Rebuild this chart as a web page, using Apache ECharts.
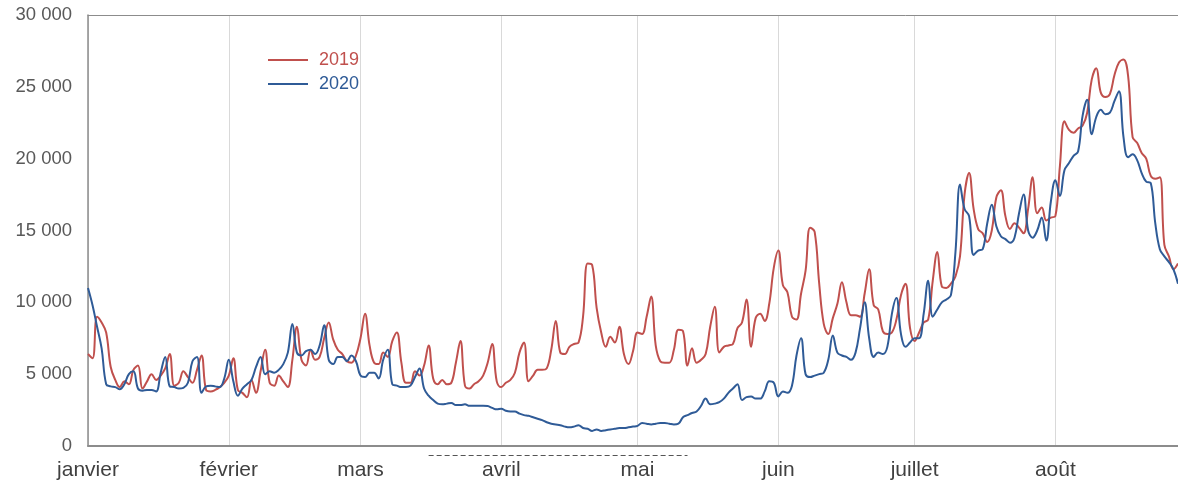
<!DOCTYPE html>
<html>
<head>
<meta charset="utf-8">
<script src="https://cdn.jsdelivr.net/npm/echarts@6/dist/echarts.min.js"></script>
<style>
html,body{margin:0;padding:0;background:#fff;}
#chart{width:1178px;height:485px;}
</style>
</head>
<body>
<div id="chart"></div>
<script>
const monthNames = ['janvier','février','mars','avril','mai','juin','juillet','août','septembre','octobre','novembre','décembre'];
const seriesNames = ['2019','2020'];
const yTicks = [0, 5000, 10000, 15000, 20000, 25000, 30000];
const lockdownRange = ['2020-03-16', '2020-05-12'];

const values2019 = [
6400,6100,9000,8600,7900,5500,4600,4100,4500,4300,
5300,5600,4000,4500,5000,4600,4900,5400,6400,4200,
4400,5200,4800,4400,5300,6300,3900,3800,3900,4100,
4400,4900,6100,3900,3700,3400,4600,3700,5200,6700,
4400,4200,4900,4500,4100,6000,8300,6000,5600,6700,
6000,6200,7500,8600,7400,6700,6400,5900,5800,6300,
7500,9200,7000,5800,5700,6500,6200,7300,7900,5800,
4400,4400,5200,4900,5600,7000,4700,4300,4600,4300,
4400,5800,7300,4200,4000,4300,4500,4900,5800,7100,
4500,4100,4400,4600,5100,6500,7200,4500,4900,5300,
5300,5400,6700,8700,6500,6400,6900,7100,7200,9000,
12700,12600,9600,7900,6900,7600,7200,8300,6400,5700,
6600,7900,7800,9000,10400,7000,5900,5800,5800,6700,
8100,8000,5600,6800,5800,6000,6400,8300,9700,6500,
6900,7000,7100,8200,8600,10200,6900,8900,9200,8700,
9900,12400,13600,11200,10700,9000,8800,10600,12200,15200,
14900,11300,8500,7800,8900,9900,11400,10000,9100,9100,
9000,10600,12300,9800,9500,8000,7800,7900,8800,10500,
11300,8200,7300,7900,8600,8800,11500,13500,11100,11000,
11300,11800,13200,17500,19000,16500,15100,14800,14200,15000,
17300,17800,16000,15100,15500,15200,14800,16500,18700,16200,
16600,15700,15900,16000,19500,22600,22000,21800,22100,22300,
23200,25500,26300,24600,24300,24500,25800,26700,26900,25800,
21500,21100,20400,20000,18800,18600,18700,14000,13200,12300,
12700
];

const values2020 = [
11000,9800,8300,6800,4300,4150,4100,3950,4300,5000,
5200,4000,3850,3900,3900,3800,5100,6200,4150,4100,
4000,4050,4400,5900,6200,3700,4150,4200,4150,4100,
4700,6000,4500,3500,4000,4300,4600,5500,6200,5000,
5200,5100,5300,5700,6500,8500,6500,6300,6600,6700,
6400,7000,8400,6000,5700,6200,6200,5900,6300,5900,
4900,4800,5100,5100,4700,6000,6700,4300,4200,4100,
4100,4200,4800,5400,4000,3500,3200,2950,2900,2950,
3000,2850,2850,2900,2800,2800,2800,2800,2780,2650,
2550,2600,2450,2400,2400,2250,2150,2100,2000,1900,
1800,1650,1550,1500,1450,1350,1300,1350,1450,1250,
1200,1050,1150,1050,1100,1150,1200,1250,1250,1300,
1350,1400,1600,1550,1500,1550,1600,1600,1550,1500,
1550,2000,2150,2300,2400,2800,3300,2900,2950,3050,
3300,3700,4000,4300,3200,3400,3450,3300,3300,3800,
4500,4400,3450,3800,3700,4200,6300,7500,5000,4800,
4900,5000,5100,6000,7700,6500,6300,6200,6000,6500,
8200,10000,7500,6200,6500,6400,6900,9200,10300,7800,
6900,7200,7500,7500,9200,11500,9000,9500,10000,10200,
10500,13500,18200,16500,16000,13300,13600,13700,15500,16800,
15300,14600,14400,14150,14500,16200,17500,15000,14500,15000,
15900,14300,17000,18500,17400,19200,19700,20200,20500,23000,
24100,21700,22900,23400,23100,23200,24000,24700,21500,20100,
20300,19900,19000,18400,18300,15500,13700,13200,12800,12300,
11300
];

// daily date categories starting 1 January
const categories = [];
(function(){
  const d = new Date(Date.UTC(2020, 0, 1));
  for (let i = 0; i < values2020.length; i++) {
    categories.push(d.toISOString().slice(0, 10));
    d.setUTCDate(d.getUTCDate() + 1);
  }
})();

const isMonthStart = (idx, val) => categories[idx].slice(8) === '01';
const fmtThousands = v => String(v).replace(/\B(?=(\d{3})+(?!\d))/g, ' ');

const RED = '#c0504d';
const BLUE = '#2f5b97';
const FONT = 'Liberation Sans, Arial, sans-serif';

const chart = echarts.init(document.getElementById('chart'), null, {renderer: 'canvas'});
chart.setOption({
  animation: false,
  backgroundColor: '#fff',
  textStyle: {fontFamily: FONT},
  grid: {left: 88, right: 0, top: 15, bottom: 39, containLabel: false},
  legend: {
    orient: 'vertical',
    left: 263,
    top: 46,
    itemWidth: 40,
    itemHeight: 2,
    itemGap: 6,
    icon: 'rect',
    data: [
      {name: seriesNames[0], textStyle: {color: RED}},
      {name: seriesNames[1], textStyle: {color: BLUE}}
    ],
    textStyle: {fontSize: 18, padding: [0, 0, 0, 6], fontFamily: FONT}
  },
  xAxis: [{
    type: 'category',
    data: categories,
    boundaryGap: false,
    axisLine: {show: true, lineStyle: {color: '#8c8c8c', width: 2}},
    axisTick: {show: false},
    axisLabel: {
      interval: isMonthStart,
      formatter: v => monthNames[parseInt(v.slice(5, 7), 10) - 1],
      color: '#404040',
      fontSize: 21,
      margin: 14
    },
    splitLine: {show: true, interval: isMonthStart, lineStyle: {color: '#d9d9d9', width: 1}}
  }, {
    type: 'category',
    data: categories,
    position: 'top',
    boundaryGap: false,
    axisLine: {show: true, lineStyle: {color: '#8c8c8c', width: 1}},
    axisTick: {show: false},
    axisLabel: {show: false},
    splitLine: {show: false}
  }],
  yAxis: {
    type: 'value',
    min: yTicks[0],
    max: yTicks[yTicks.length - 1],
    interval: yTicks[1] - yTicks[0],
    axisLine: {show: true, lineStyle: {color: '#8c8c8c', width: 1.5}},
    axisTick: {show: false},
    splitLine: {show: false},
    axisLabel: {
      formatter: fmtThousands,
      color: '#595959',
      fontSize: 18.5,
      margin: 16,
      lineHeight: 24,
      verticalAlign: 'middle',
      padding: [6, 0, 0, 0]
    }
  },
  series: [{
    name: seriesNames[0],
    type: 'line',
    data: values2019,
    smooth: 0.4,
    symbol: 'none',
    lineStyle: {color: RED, width: 2},
    itemStyle: {color: RED},
    z: 2
  }, {
    name: seriesNames[1],
    type: 'line',
    data: values2020,
    smooth: 0.4,
    symbol: 'none',
    lineStyle: {color: BLUE, width: 2},
    itemStyle: {color: BLUE},
    z: 3
  }]
});

// dashed lockdown marker under the axis, positioned through the axis scale
const x1 = chart.convertToPixel({xAxisIndex: 0}, lockdownRange[0]);
const x2 = chart.convertToPixel({xAxisIndex: 0}, lockdownRange[1]);
const y0 = Math.round(chart.convertToPixel({yAxisIndex: 0}, 0)) + 9.5;
chart.setOption({
  graphic: [{
    type: 'line',
    shape: {x1: x1, y1: y0, x2: x2, y2: y0},
    style: {stroke: '#555', lineWidth: 1, lineDash: [5, 3]},
    silent: true
  }]
});
</script>
</body>
</html>
